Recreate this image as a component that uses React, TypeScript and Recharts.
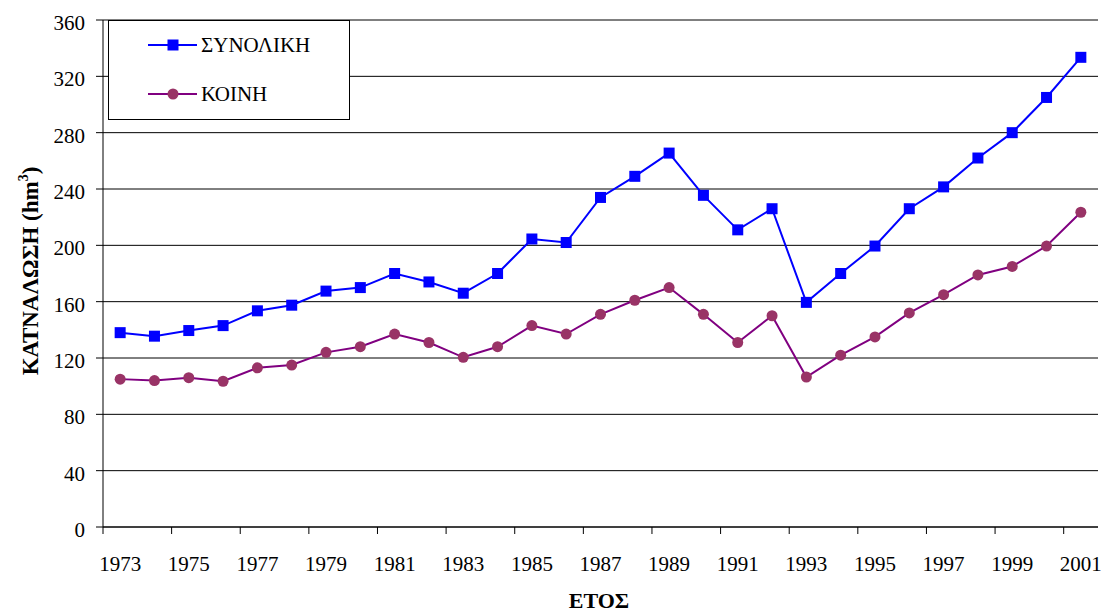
import React from 'react';
import { LineChart, Line, XAxis, YAxis, CartesianGrid, Legend } from 'recharts';

const YEARS = ['1973','1974','1975','1976','1977','1978','1979','1980','1981','1982','1983','1984','1985','1986','1987','1988','1989','1990','1991','1992','1993','1994','1995','1996','1997','1998','1999','2000','2001'];
const TOTAL = [138, 135.5, 139.5, 143, 153.5, 157.5, 167.5, 170, 180, 174, 166, 180, 204.5, 202, 234, 249, 265.5, 235.5, 211, 226, 159.5, 180, 199.5, 226, 241.5, 262, 280, 305, 333.5];
const COMMON = [105, 104, 106, 103.5, 113, 115, 124, 128, 137, 131, 120.5, 128, 143, 137, 151, 161, 170, 151, 131, 150, 106.5, 122, 135, 152, 165, 179, 185, 199.5, 223.5];
const Y_TICKS = [0, 40, 80, 120, 160, 200, 240, 280, 320, 360];
const SERIES_NAMES = ['ΣΥΝΟΛΙΚΗ', 'ΚΟΙΝΗ'];
const X_TITLE = 'ΕΤΟΣ';
const Y_TITLE = 'ΚΑΤΝΑΛΩΣΗ (hm';

const data = YEARS.map((y, i) => ({ year: y, total: TOTAL[i], common: COMMON[i] }));

const W = 1104;
const H = 613;
const M = { top: 20, right: 6, left: 43, bottom: 56 };
const Y_AXIS_W = 60;
const X_AXIS_H = 30;
const PLOT_W = W - M.left - Y_AXIS_W - M.right;
const FONT = '"Liberation Serif", "Times New Roman", serif';

const BLUE = '#0000FF';
const PURPLE_LINE = '#800080';
const PURPLE_DOT = '#993366';

const XTick = (props: any) => {
  const { x, y, payload } = props;
  const bw = PLOT_W / YEARS.length;
  return (
    <g>
      <line x1={x - bw / 2} x2={x - bw / 2} y1={y} y2={y + 7} stroke="#000" strokeWidth={1} />
      <text x={x} y={y + 43.5} textAnchor="middle" fontFamily={FONT} fontSize={21} fill="#000">
        {payload.value}
      </text>
    </g>
  );
};

const YTick = (props: any) => {
  const { x, y, payload } = props;
  return (
    <text x={x} y={y + 10} textAnchor="end" fontFamily={FONT} fontSize={21} fill="#000">
      {payload.value}
    </text>
  );
};

const SquareDot = (props: any) => {
  const { cx, cy } = props;
  if (cx == null || cy == null) return null;
  return <rect x={cx - 5.5} y={cy - 5.5} width={11} height={11} fill={BLUE} stroke="none" />;
};

const CircleDot = (props: any) => {
  const { cx, cy } = props;
  if (cx == null || cy == null) return null;
  return <circle cx={cx} cy={cy} r={5.5} fill={PURPLE_DOT} stroke="none" />;
};

const YLabel = () => (
  <text
    x={38}
    y={271}
    transform="rotate(-90, 38, 271)"
    textAnchor="middle"
    fontFamily={FONT}
    fontSize={23}
    fontWeight="bold"
    fill="#000"
  >
    {Y_TITLE}
    <tspan dy={-10} fontSize={14}>3</tspan>
    <tspan dy={10}>)</tspan>
  </text>
);

const XLabel = () => (
  <text x={599} y={608} textAnchor="middle" fontFamily={FONT} fontSize={22} fontWeight="bold" fill="#000">
    {X_TITLE}
  </text>
);

const LegendContent = () => {
  const rows = [
    { name: SERIES_NAMES[0], color: BLUE, kind: 'square' },
    { name: SERIES_NAMES[1], color: PURPLE_LINE, kind: 'circle' },
  ];
  return (
    <div style={{ position: 'relative', width: '100%', height: '100%' }}>
      {rows.map((r, i) => (
        <div key={r.name} style={{ position: 'absolute', left: 0, top: i === 0 ? 24 - 15 : 73 - 15, height: 30, width: '100%' }}>
          <svg width={60} height={30} style={{ position: 'absolute', left: 33, top: 0 }}>
            <line x1={6} x2={55} y1={15} y2={15} stroke={r.color} strokeWidth={2} />
            {r.kind === 'square' ? (
              <rect x={31 - 5.5} y={15 - 5.5} width={11} height={11} fill={BLUE} />
            ) : (
              <circle cx={31} cy={15} r={5.5} fill={PURPLE_DOT} />
            )}
          </svg>
          <span
            style={{
              position: 'absolute',
              left: 92,
              top: 0,
              lineHeight: '30px',
              fontFamily: FONT,
              fontSize: 21,
              color: '#000',
              whiteSpace: 'nowrap',
            }}
          >
            {r.name}
          </span>
        </div>
      ))}
    </div>
  );
};

export default function App() {
  return (
    <div style={{ position: 'absolute', left: 0, top: 0, width: W, height: H, background: '#fff' }}>
      <LineChart width={W} height={H} data={data} margin={M}>
        <CartesianGrid vertical={false} horizontal={true} stroke="#000" strokeWidth={1} />
        <XAxis
          dataKey="year"
          scale="band"
          height={X_AXIS_H}
          interval={1}
          tickSize={0}
          tickMargin={0}
          tickLine={false}
          axisLine={{ stroke: '#000', strokeWidth: 1 }}
          tick={<XTick />}
          label={<XLabel />}
        />
        <YAxis
          width={Y_AXIS_W}
          domain={[0, 360]}
          ticks={Y_TICKS}
          interval={0}
          tickSize={7}
          tickMargin={11}
          tickLine={{ stroke: '#000' }}
          axisLine={{ stroke: '#000', strokeWidth: 1 }}
          tick={<YTick />}
          label={<YLabel />}
        />
        <YAxis
          yAxisId="right"
          orientation="right"
          width={0}
          tick={false}
          tickLine={false}
          axisLine={{ stroke: '#000', strokeWidth: 1 }}
        />
        <Legend
          layout="vertical"
          align="center"
          verticalAlign="middle"
          content={<LegendContent />}
          wrapperStyle={{
            position: 'absolute',
            left: 108,
            top: 20,
            width: 242,
            height: 100,
            border: '1px solid #000',
            background: '#fff',
            boxSizing: 'border-box',
          }}
        />
        <Line
          type="linear"
          dataKey="total"
          name={SERIES_NAMES[0]}
          stroke={BLUE}
          strokeWidth={2}
          dot={<SquareDot />}
          activeDot={false}
          isAnimationActive={false}
        />
        <Line
          type="linear"
          dataKey="common"
          name={SERIES_NAMES[1]}
          stroke={PURPLE_LINE}
          strokeWidth={2}
          dot={<CircleDot />}
          activeDot={false}
          isAnimationActive={false}
        />
      </LineChart>
    </div>
  );
}
